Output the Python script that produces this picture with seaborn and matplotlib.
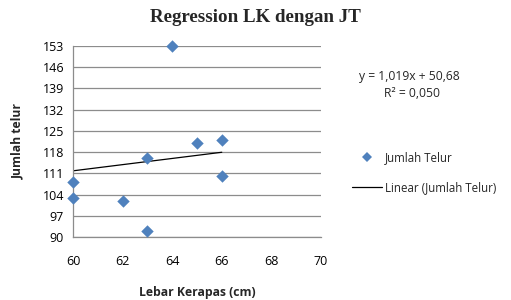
import numpy as np
import pandas as pd
import matplotlib
matplotlib.use("Agg")
import matplotlib.pyplot as plt
import seaborn as sns
from matplotlib.lines import Line2D

# data
lebar_kerapas = [60, 60, 62, 63, 63, 64, 65, 66, 66]
jumlah_telur = [108, 103, 102, 116, 92, 153, 121, 122, 110]
slope = 1.019
intercept = 50.68
y_ticks = [90, 97, 104, 111, 118, 125, 132, 139, 146, 153]
x_ticks = [60, 62, 64, 66, 68, 70]

data = pd.DataFrame({"Lebar Kerapas (cm)": lebar_kerapas, "Jumlah telur": jumlah_telur})

sns.set_style("white")
plt.rcParams['font.family'] = ['Open Sans', 'DejaVu Sans']

fig = plt.figure(figsize=(5.11, 3.0), dpi=100)
ax = fig.add_axes([0.143, 0.21, 0.485, 0.637])

for yv in y_ticks:
    ax.axhline(yv, color="#8c8c8c", lw=0.9, zorder=0)

blue = "#4F81BD"
sns.scatterplot(data=data, x="Lebar Kerapas (cm)", y="Jumlah telur", ax=ax,
                marker="D", s=40, color=blue, edgecolor=blue, linewidth=0,
                zorder=3, clip_on=False)

xs = np.array([min(lebar_kerapas), max(lebar_kerapas)])
ax.plot(xs, slope * xs + intercept, color="black", lw=0.9, zorder=2)

ax.set_xlim(60, 70)
ax.set_ylim(90, 153)
ax.set_xticks(x_ticks)
ax.set_yticks(y_ticks)
ax.tick_params(axis="both", labelsize=9, colors="#8c8c8c", labelcolor="black",
               direction="out", length=3, width=0.8)
ax.tick_params(axis="x", pad=10)
for s in ["top", "right"]:
    ax.spines[s].set_visible(False)
for s in ["left", "bottom"]:
    ax.spines[s].set_color("#8c8c8c")
    ax.spines[s].set_linewidth(0.9)

ax.set_xlabel("Lebar Kerapas (cm)", fontsize=8.7, fontweight="bold", labelpad=13)
ax.set_ylabel("Jumlah telur", fontsize=8.7, fontweight="bold", labelpad=13)

fig.text(0.5, 0.94, "Regression LK dengan JT", ha="center", va="center",
         fontsize=13.7, fontweight="bold", family="Liberation Serif")

eq = "y = {:.3f}x + {:.2f}".format(slope, intercept).replace(".", ",")
fig.text(0.703, 0.745, eq, fontsize=8.7, ha="left", va="center")
fig.text(0.752, 0.688, "R² = 0,050", fontsize=8.7, ha="left", va="center")

handles = [
    Line2D([], [], marker="D", color=blue, ls="none", markersize=5.5, markeredgewidth=0),
    Line2D([], [], color="black", lw=0.9),
]
fig.legend(handles, ["Jumlah Telur", "Linear (Jumlah Telur)"], loc="center left",
           bbox_to_anchor=(0.689, 0.425), frameon=False, fontsize=8.3,
           borderpad=0, borderaxespad=0,
           handlelength=2.6, labelspacing=1.45, handletextpad=0.25)

fig.savefig("out.png", dpi=100)
